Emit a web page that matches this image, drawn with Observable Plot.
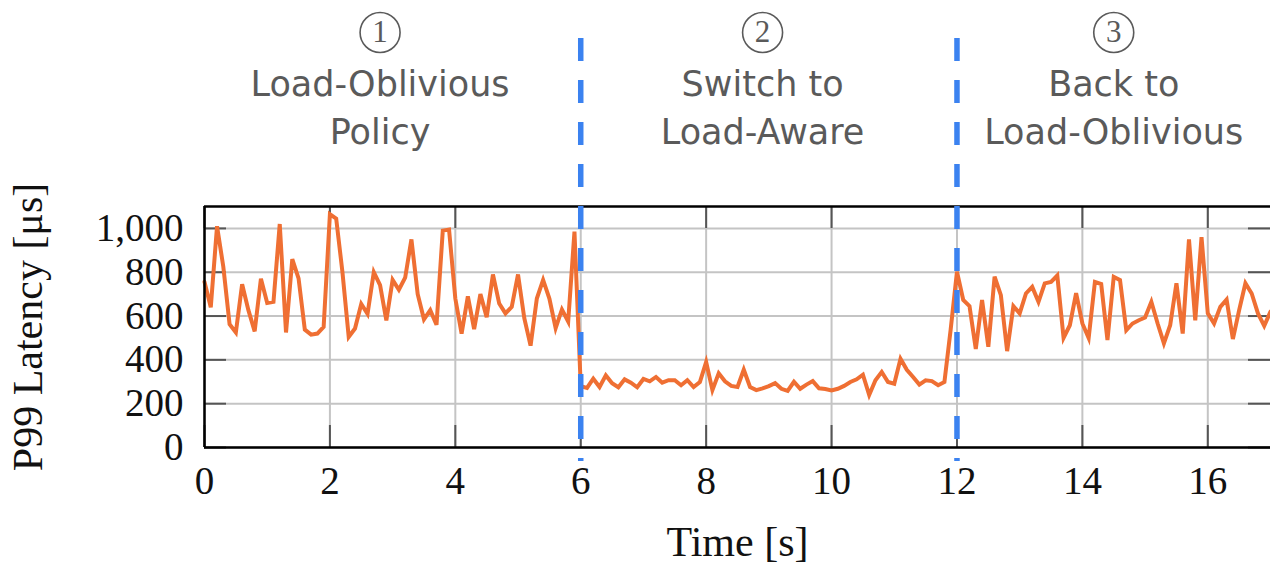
<!DOCTYPE html>
<html>
<head>
<meta charset="utf-8">
<script src="https://cdn.jsdelivr.net/npm/d3@7"></script>
<script src="https://cdn.jsdelivr.net/npm/@observablehq/plot@0.6"></script>
<style>
  html, body { margin: 0; padding: 0; background: #fff; overflow: hidden; }
</style>
</head>
<body>
<div id="chart"></div>
<script>
// ---- data ----
const sampleStep = 0.1; // seconds between samples
const latency = [
  // 0.0 - 5.9 s : load-oblivious
  756, 640, 1010, 825, 563, 525, 745, 627, 530, 770,
  660, 665, 1020, 525, 860, 772, 538, 515, 520, 550,
  1065, 1045, 800, 505, 543, 655, 610, 800, 741, 580,
  765, 720, 775, 950, 700, 585, 627, 560, 990, 995,
  680, 520, 690, 540, 700, 595, 790, 657, 612, 642,
  790, 590, 465, 680, 765, 680, 545, 630, 575, 985,
  // 6.0 - 11.9 s : load-aware
  280, 272, 314, 276, 329, 293, 275, 311, 296, 275,
  313, 302, 322, 296, 307, 307, 284, 307, 276, 299,
  390, 262, 339, 302, 281, 276, 355, 276, 262, 270,
  280, 294, 268, 258, 300, 268, 287, 303, 270, 267,
  260, 268, 281, 299, 311, 332, 240, 307, 345, 299,
  291, 405, 355, 322, 287, 307, 303, 284, 299, 540,
  // 12.0 - 17.0 s : back to load-oblivious
  802, 673, 645, 450, 673, 460, 780, 695, 440, 645,
  612, 703, 733, 665, 749, 756, 785, 500, 558, 705,
  566, 500, 756, 746, 490, 779, 764, 535, 566, 581,
  593, 665, 566, 475, 558, 750, 520, 950, 580, 960,
  612, 566, 642, 675, 495, 627, 750, 703, 612, 555,
  620
];
const switchTimes = [6, 12];
const phaseLabelAt = [2.8, 8.9, 14.5];
const phaseNumber = ["1", "2", "3"];
const phaseLine1 = ["Load-Oblivious", "Switch to", "Back to"];
const phaseLine2 = ["Policy", "Load-Aware", "Load-Oblivious"];
const xTicks = [0, 2, 4, 6, 8, 10, 12, 14, 16];
const yTicks = [0, 200, 400, 600, 800, 1000];
const xDomain = [0, 17];
const yDomain = [0, 1100];

// ---- derived tables ----
const series = latency.map((v, i) => ({t: +(i * sampleStep).toFixed(1), v}));
const phases = phaseLabelAt.map((x, i) => ({
  x, num: phaseNumber[i], l1: phaseLine1[i], l2: phaseLine2[i]
}));

const W = 1270, H = 563;
const mL = 204, mR = 0, mT = 206, mB = 116;
const frameW = W - mL - mR, frameH = H - mT - mB;
const tickLen = 22;
const annoFont = "'DejaVu Sans', Verdana, sans-serif";
const annoColor = "#5a5a5a";

const chart = Plot.plot({
  width: W,
  height: H,
  marginLeft: mL,
  marginRight: mR,
  marginTop: mT,
  marginBottom: mB,
  style: {fontFamily: "'Liberation Serif', 'Times New Roman', serif", fontSize: "39px", color: "#111", background: "#fff"},
  x: {domain: xDomain, label: null},
  y: {domain: yDomain, label: null},
  marks: [
    // grid
    Plot.ruleX(xTicks, {stroke: "#c4c4c4", strokeWidth: 2}),
    Plot.ruleY(yTicks, {stroke: "#c4c4c4", strokeWidth: 2}),
    // inner tick marks (mirrored on all sides)
    Plot.ruleX(xTicks, {stroke: "#555", strokeWidth: 2, insetTop: frameH - tickLen}),
    Plot.ruleX(xTicks, {stroke: "#555", strokeWidth: 2, insetBottom: frameH - tickLen}),
    Plot.ruleY(yTicks, {stroke: "#555", strokeWidth: 2, insetRight: frameW - tickLen}),
    Plot.ruleY(yTicks, {stroke: "#555", strokeWidth: 2, insetLeft: frameW - tickLen}),
    // tick labels
    Plot.axisX({ticks: xTicks, tickSize: 0, tickPadding: 19, label: null}),
    Plot.axisY({ticks: yTicks, tickSize: 0, tickPadding: 21, tickFormat: d3.format(","), label: null}),
    // data line
    Plot.line(series, {x: "t", y: "v", stroke: "#ef6f33", strokeWidth: 4, strokeLinejoin: "miter", strokeMiterlimit: 4}),
    // frame (left, bottom, top; right edge is beyond the picture)
    Plot.ruleX([xDomain[0]], {stroke: "#000", strokeWidth: 2.5}),
    Plot.ruleY(yDomain, {stroke: "#000", strokeWidth: 2.5}),
    // phase switch markers
    Plot.ruleX(switchTimes, {stroke: "#3b82f0", strokeWidth: 5.5, strokeDasharray: "23,19", insetTop: -168, insetBottom: -14}),
    // phase annotations
    Plot.dot(phases, {x: "x", frameAnchor: "top", dy: -174, r: 20, stroke: annoColor, strokeWidth: 1.6, fill: "none"}),
    Plot.text(phases, {x: "x", text: "num", frameAnchor: "top", dy: -174, lineAnchor: "middle", fontSize: 31, fill: annoColor}),
    Plot.text(phases, {x: "x", text: "l1", frameAnchor: "top", dy: -111, lineAnchor: "bottom", fontSize: 35, fontFamily: annoFont, fill: annoColor}),
    Plot.text(phases, {x: "x", text: "l2", frameAnchor: "top", dy: -63, lineAnchor: "bottom", fontSize: 35, fontFamily: annoFont, fill: annoColor}),
    // axis titles
    Plot.text(["Time [s]"], {frameAnchor: "bottom", dy: 108, lineAnchor: "bottom", fontSize: 42, fill: "#111"}),
    Plot.text(["P99 Latency [\u03BCs]"], {frameAnchor: "left", dx: -163, rotate: -90, textAnchor: "middle", lineAnchor: "bottom", fontSize: 42, fill: "#111"})
  ]
});
document.getElementById("chart").appendChild(chart);
</script>
</body>
</html>
